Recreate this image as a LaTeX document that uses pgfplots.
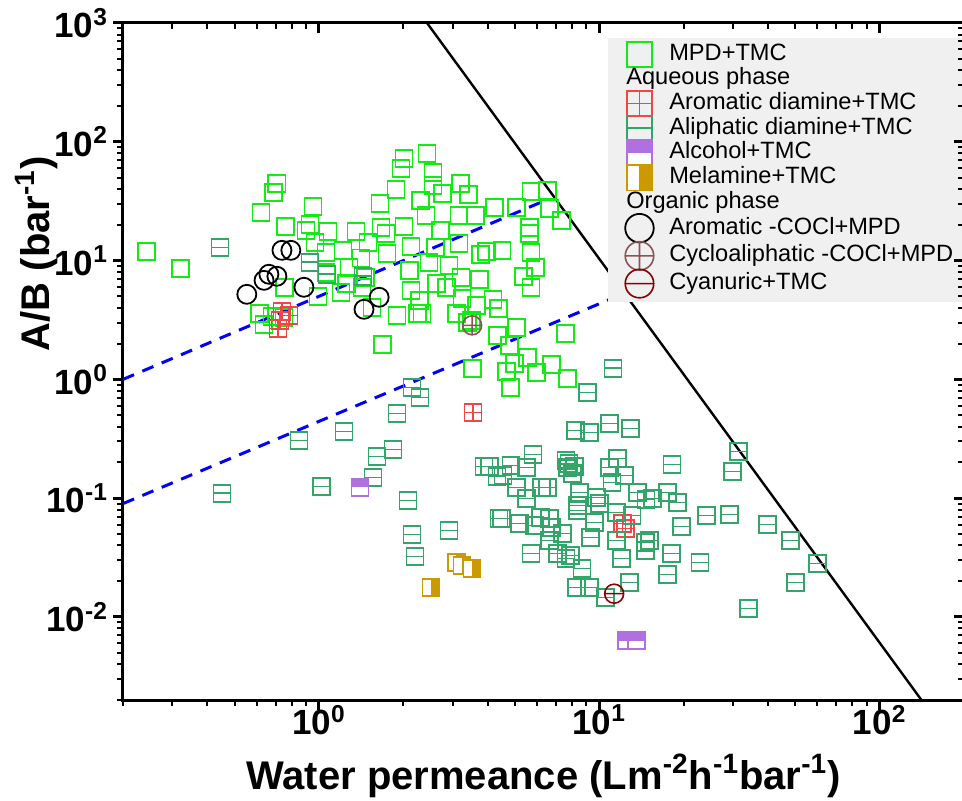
\documentclass[border=0pt]{standalone}
\usepackage{fontspec}
\setmainfont{Liberation Sans}
\usepackage{pgfplots}
\pgfplotsset{compat=1.18}

\definecolor{mpd}{RGB}{20,235,20}
\definecolor{arom}{RGB}{240,70,70}
\definecolor{alip}{RGB}{50,165,105}
\definecolor{alc}{RGB}{176,112,224}
\definecolor{mel}{RGB}{204,153,0}
\definecolor{cyclo}{RGB}{135,85,85}
\definecolor{cyanu}{RGB}{140,0,0}
\definecolor{leggray}{RGB}{240,240,240}

\pgfdeclareplotmark{sqplus}{%
  \pgfpathrectangle{\pgfqpoint{-\pgfplotmarksize}{-\pgfplotmarksize}}{\pgfqpoint{2\pgfplotmarksize}{2\pgfplotmarksize}}%
  \pgfpathmoveto{\pgfqpoint{-\pgfplotmarksize}{0pt}}\pgfpathlineto{\pgfqpoint{\pgfplotmarksize}{0pt}}%
  \pgfpathmoveto{\pgfqpoint{0pt}{-\pgfplotmarksize}}\pgfpathlineto{\pgfqpoint{0pt}{\pgfplotmarksize}}%
  \pgfusepathqstroke}
\pgfdeclareplotmark{sqhline}{%
  \pgfpathrectangle{\pgfqpoint{-\pgfplotmarksize}{-\pgfplotmarksize}}{\pgfqpoint{2\pgfplotmarksize}{2\pgfplotmarksize}}%
  \pgfpathmoveto{\pgfqpoint{-\pgfplotmarksize}{0pt}}\pgfpathlineto{\pgfqpoint{\pgfplotmarksize}{0pt}}%
  \pgfusepathqstroke}
\pgfdeclareplotmark{ominus}{%
  \pgfpathcircle{\pgfpointorigin}{\pgfplotmarksize}%
  \pgfpathmoveto{\pgfqpoint{-\pgfplotmarksize}{0pt}}\pgfpathlineto{\pgfqpoint{\pgfplotmarksize}{0pt}}%
  \pgfusepathqstroke}
\pgfdeclareplotmark{alcsq}{%
  \pgfpathrectangle{\pgfqpoint{-\pgfplotmarksize}{-\pgfplotmarksize}}{\pgfqpoint{2\pgfplotmarksize}{2\pgfplotmarksize}}%
  \pgfsetfillcolor{white}\pgfusepathqfill
  \pgfpathrectangle{\pgfqpoint{-\pgfplotmarksize}{0pt}}{\pgfqpoint{2\pgfplotmarksize}{\pgfplotmarksize}}%
  \pgfsetfillcolor{alc}\pgfusepathqfill
  \pgfpathrectangle{\pgfqpoint{-\pgfplotmarksize}{-\pgfplotmarksize}}{\pgfqpoint{2\pgfplotmarksize}{2\pgfplotmarksize}}%
  \pgfusepathqstroke}
\pgfdeclareplotmark{melsq}{%
  \pgfpathrectangle{\pgfqpoint{-\pgfplotmarksize}{-\pgfplotmarksize}}{\pgfqpoint{2\pgfplotmarksize}{2\pgfplotmarksize}}%
  \pgfsetfillcolor{white}\pgfusepathqfill
  \pgfpathrectangle{\pgfqpoint{0pt}{-\pgfplotmarksize}}{\pgfqpoint{\pgfplotmarksize}{2\pgfplotmarksize}}%
  \pgfsetfillcolor{mel}\pgfusepathqfill
  \pgfpathrectangle{\pgfqpoint{-\pgfplotmarksize}{-\pgfplotmarksize}}{\pgfqpoint{2\pgfplotmarksize}{2\pgfplotmarksize}}%
  \pgfusepathqstroke}

\begin{document}
\begin{tikzpicture}
\useasboundingbox (-61.5pt,-50.5pt) rectangle (419.5pt,350pt);
\begin{axis}[
  scale only axis, width=420.5pt, height=338.5pt,
  xmode=log, ymode=log,
  xmin=0.2, xmax=200, ymin=0.002, ymax=1000,
  xtick={1,10,100},
  minor xtick={0.2,0.3,0.4,0.5,0.6,0.7,0.8,0.9,2,3,4,5,6,7,8,9,20,30,40,50,60,70,80,90,200},
  ytick={0.01,0.1,1,10,100,1000},
  minor ytick={0.002,0.003,0.004,0.005,0.006,0.007,0.008,0.009,0.02,0.03,0.04,0.05,0.06,0.07,0.08,0.09,0.2,0.3,0.4,0.5,0.6,0.7,0.8,0.9,2,3,4,5,6,7,8,9,20,30,40,50,60,70,80,90,200,300,400,500,600,700,800,900},
  major tick length=5pt, minor tick length=3pt,
  major tick style={line width=1.5pt, black},
  minor tick style={line width=1pt, black},
  axis line style={line width=1.5pt},
  tick pos=left, tick align=outside,
  xticklabels={10\textsuperscript{0},10\textsuperscript{1},10\textsuperscript{2}},
  yticklabels={10\textsuperscript{-2},10\textsuperscript{-1},10\textsuperscript{0},10\textsuperscript{1},10\textsuperscript{2},10\textsuperscript{3}},
  tick label style={font=\fontsize{17.5}{20}\selectfont\bfseries},
  xticklabel style={yshift=6pt},
  yticklabel style={xshift=1pt},
  xlabel={Water permeance (Lm\textsuperscript{-2}h\textsuperscript{-1}bar\textsuperscript{-1})},
  xlabel style={at={(axis description cs:0.5,-0.1315)}, anchor=base, font=\fontsize{20}{24}\selectfont\bfseries},
  ylabel={A/B (bar\textsuperscript{-1})},
  ylabel style={at={(axis description cs:-0.0868,0.659)}, anchor=base, font=\fontsize{20}{24}\selectfont\bfseries},
  legend style={at={(0.5767,0.979)}, anchor=north west, fill=leggray, draw=none,
    font=\fontsize{11.8}{12}\selectfont, row sep=-0.4pt, inner xsep=7pt, inner ysep=2pt,
    nodes={inner sep=0.8pt, text height=8.5pt, text depth=2.5pt},
    /tikz/every odd column/.append style={column sep=7pt}},
  legend cell align=left,
  legend image post style={mark options={scale=1.5}},
]
% lines
\addplot[black, line width=1.2pt, forget plot] coordinates {(2.43,1000) (141,0.002)};
\addplot[blue, line width=1.5pt, dash pattern=on 6pt off 4.5pt, forget plot] coordinates {(0.2,1.0) (6.4,32)};
\addplot[blue, line width=1.5pt, dash pattern=on 6pt off 4.5pt, forget plot] coordinates {(0.2,0.09) (11.8,5.1)};

% MPD+TMC
\addplot[only marks, mark=square, mark size=4.25pt, color=mpd, line width=0.9pt] coordinates {
(0.243,12.0) (0.321,8.61) (0.621,25.5) (0.690,37.6) (0.708,44.8) (0.762,19.5)
(0.929,20.2) (0.899,18.0) (0.952,28.7) (0.968,14.3) (1.059,11.7) (1.077,17.7)
(1.218,12.2) (1.356,17.7) (1.496,14.3) (1.28,8.78) (1.413,10.5) (1.651,30.4)
(1.963,60.0) (2.01,72.8) (1.884,39.9) (2.31,32.2) (2.01,19.5) (1.734,17.0)
(1.749,11.5) (1.665,19.1) (2.13,13.2) (2.10,8.28) (1.90,3.46) (1.69,1.97)
(1.546,4.04) (0.756,5.96) (0.992,5.00) (1.198,5.41) (1.425,5.96) (0.615,3.60)
(0.680,3.40) (0.637,2.91) (0.750,3.33) (2.13,5.62) (2.24,3.60) (1.059,7.97)
(2.43,80.2) (2.55,55.5) (2.55,43.1) (3.19,44.8) (3.41,36.2) (3.16,24.1)
(3.61,24.1) (4.22,28.1) (5.06,28.1) (5.71,38.4) (6.52,39.1) (6.63,27.6)
(7.31,21.9) (5.62,19.1) (5.62,17.0) (5.71,11.7) (5.91,8.78) (5.35,7.38)
(5.71,5.96) (4.50,12.2) (3.95,12.0) (3.76,11.3) (2.71,18.0) (3.16,14.0)
(2.60,12.9) (2.47,9.68) (2.91,9.13) (3.21,7.23) (3.73,6.96) (2.62,6.44)
(3.24,4.81) (4.18,4.72) (4.36,3.96) (3.09,3.60) (3.49,3.14) (5.06,2.74)
(4.32,2.35) (4.77,1.93) (7.56,2.44) (5.53,1.53) (5.96,1.15) (6.74,1.34)
(7.69,1.02) (4.97,1.36) (4.66,1.17) (4.81,0.856) (3.52,1.24) (2.33,3.60)
(2.75,36.9) (2.41,24.1) (1.25,6.44) (2.28,4.63) (2.86,5.96) (3.64,4.20)
(3.38,3.02) (1.47,7.23)
};
\addlegendentry{MPD+TMC}
\addlegendimage{empty legend}
\addlegendentry{\hspace*{-21.5pt}Aqueous phase}

% Aromatic diamine+TMC
\addplot[only marks, mark=sqplus, mark size=4.25pt, color=arom, line width=0.8pt] coordinates {
(0.738,3.74) (0.781,3.46) (0.726,3.14) (0.714,2.69) (3.55,0.527) (12.1,0.0612) (12.4,0.0556)
};
\addlegendentry{Aromatic diamine+TMC}

% Aliphatic diamine+TMC
\addplot[only marks, mark=sqhline, mark size=4.25pt, color=alip, line width=0.8pt] coordinates {
(0.443,12.9) (0.929,9.68) (1.068,7.67) (1.436,7.38) (9.06,0.777) (0.451,0.110)
(0.848,0.306) (2.15,0.856) (2.29,0.705) (1.90,0.517) (1.23,0.365) (1.61,0.225)
(1.84,0.257) (1.56,0.149) (1.02,0.1255) (2.08,0.0957) (2.15,0.0494) (2.91,0.0535)
(2.20,0.0323) (3.88,0.185) (4.32,0.152) (4.39,0.0675) (11.2,1.24) (8.21,0.372)
(9.21,0.357) (10.9,0.426) (12.9,0.386) (5.81,0.233) (7.62,0.208) (7.69,0.181)
(8.14,0.185) (8.01,0.162) (7.8,0.195) (11.6,0.216) (10.9,0.181) (12.3,0.155) (11.1,0.136)
(4.85,0.189) (5.49,0.181) (4.05,0.185) (4.54,0.155) (5.06,0.123) (5.49,0.0994)
(6.52,0.123) (6.21,0.123) (8.48,0.112) (9.75,0.101) (13.7,0.112) (14.7,0.0975)
(15.5,0.0994) (8.35,0.0868) (8.35,0.0788) (10.0,0.0902) (9.60,0.0624) (11.5,0.0758)
(13.1,0.0715) (4.47,0.0675) (5.18,0.0612) (5.86,0.0589) (6.63,0.0675) (6.74,0.0566)
(7.38,0.0504) (6.63,0.0440) (5.71,0.0342) (7.08,0.0342) (7.88,0.0329) (9.29,0.0467)
(11.5,0.0440) (12.0,0.0310) (14.6,0.0423) (14.6,0.0362) (12.8,0.0195) (8.28,0.0177)
(9.21,0.0177) (10.5,0.0146) (8.69,0.0256) (7.62,0.0310) (6.16,0.0688) (31.4,0.247)
(29.9,0.168) (18.2,0.192) (17.5,0.112) (19.0,0.092) (24.1,0.0715) (29.1,0.0729)
(19.6,0.0578) (39.8,0.060) (48.1,0.0440) (60.1,0.0282) (50.1,0.0195) (18.1,0.0342)
(22.9,0.0287) (17.5,0.0228) (34.0,0.0118) (15.1,0.0440)
};
\addlegendentry{Aliphatic diamine+TMC}

% Alcohol+TMC
\addplot[only marks, mark=alcsq, mark size=4.25pt, color=alc, line width=0.8pt] coordinates {
(1.40,0.123) (12.5,0.00632) (13.6,0.00632)
};
\addlegendentry{Alcohol+TMC}

% Melamine+TMC
\addplot[only marks, mark=melsq, mark size=4.25pt, color=mel, line width=0.8pt] coordinates {
(3.09,0.0287) (3.24,0.0271) (3.52,0.0256) (2.51,0.0177)
};
\addlegendentry{Melamine+TMC}
\addlegendimage{empty legend}
\addlegendentry{\hspace*{-21.5pt}Organic phase}

% Aromatic -COCl+MPD
\addplot[only marks, mark=o, mark size=4.75pt, color=black, line width=0.9pt] coordinates {
(0.738,12.2) (0.794,12.2) (0.637,6.82) (0.663,7.67) (0.708,7.38) (0.553,5.20)
(0.884,5.96) (1.64,4.91) (1.448,3.89)
};
\addlegendentry{Aromatic -COCl+MPD}

% Cycloaliphatic -COCl+MPD
\addplot[only marks, mark=oplus, mark size=4.75pt, color=cyclo, line width=0.8pt] coordinates {
(3.52,2.85)
};
\addlegendentry{Cycloaliphatic -COCl+MPD}

% Cyanuric+TMC
\addplot[only marks, mark=ominus, mark size=4.75pt, color=cyanu, line width=0.8pt] coordinates {
(11.3,0.0157)
};
\addlegendentry{Cyanuric+TMC}
\end{axis}
\begin{axis}[
  scale only axis, width=420.5pt, height=338.5pt,
  xmode=log, ymode=log,
  xmin=0.2, xmax=200, ymin=0.002, ymax=1000,
  xtick={1,10,100},
  minor xtick={0.2,0.3,0.4,0.5,0.6,0.7,0.8,0.9,2,3,4,5,6,7,8,9,20,30,40,50,60,70,80,90,200},
  ytick={0.01,0.1,1,10,100,1000},
  minor ytick={0.002,0.003,0.004,0.005,0.006,0.007,0.008,0.009,0.02,0.03,0.04,0.05,0.06,0.07,0.08,0.09,0.2,0.3,0.4,0.5,0.6,0.7,0.8,0.9,2,3,4,5,6,7,8,9,20,30,40,50,60,70,80,90,200,300,400,500,600,700,800,900},
  major tick length=5pt, minor tick length=3pt,
  major tick style={line width=1.5pt, black},
  minor tick style={line width=1pt, black},
  axis line style={draw=none},
  tick pos=right, tick align=inside,
  xticklabels={}, yticklabels={},
]
\end{axis}
\end{tikzpicture}
\end{document}
